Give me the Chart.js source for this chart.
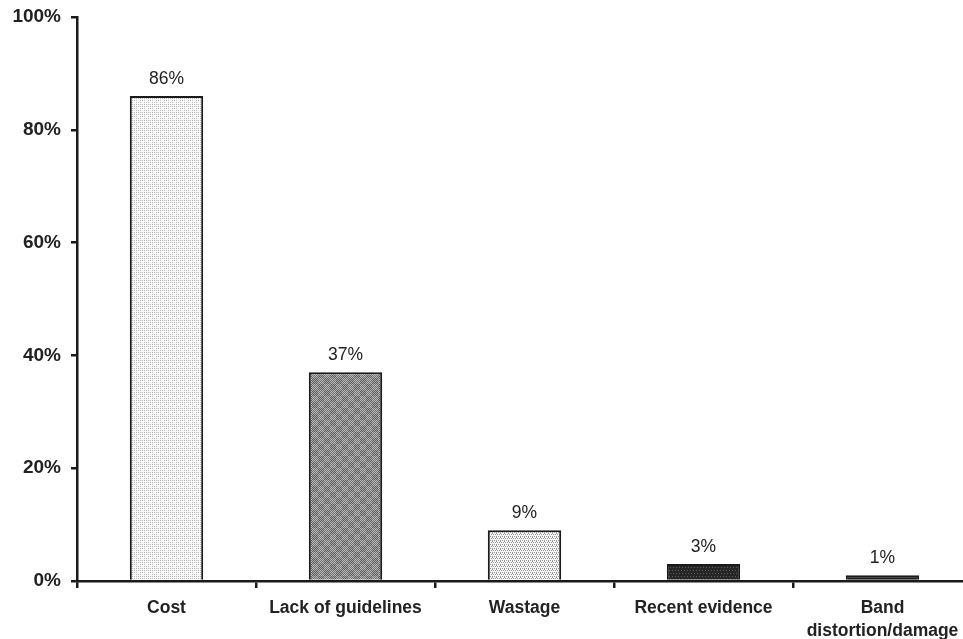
<!DOCTYPE html>
<html>
<head>
<meta charset="utf-8">
<script src="https://cdn.jsdelivr.net/npm/chart.js@4.4.1/dist/chart.umd.min.js"></script>
<style>
html,body{margin:0;padding:0;background:#fff;overflow:hidden;}
#wrap{width:980px;height:639px;position:relative;}
</style>
</head>
<body>
<div id="wrap"><canvas id="c" width="980" height="639"></canvas></div>
<script>
const categories = ["Cost", "Lack of guidelines", "Wastage", "Recent evidence", ["Band", "distortion/damage"]];
const values = [86, 37, 9, 3, 1];
const yTicks = [0, 20, 40, 60, 80, 100];

function makePattern(bg, fg, cell, dots) {
  const p = document.createElement('canvas');
  p.width = cell; p.height = cell;
  const g = p.getContext('2d');
  g.fillStyle = bg; g.fillRect(0, 0, cell, cell);
  g.fillStyle = fg;
  dots.forEach(d => g.fillRect(d[0], d[1], 1, 1));
  return g.createPattern(p, 'repeat');
}
function grid(cell, step, skip) {
  const d = [];
  for (let y = 0; y < cell; y += step) for (let x = 0; x < cell; x += step) {
    if (!skip || !skip(x, y)) d.push([x, y]);
  }
  return d;
}
function checker(cell) {
  const p = document.createElement('canvas');
  p.width = cell; p.height = cell;
  const g = p.getContext('2d');
  for (let y = 0; y < cell; y++) for (let x = 0; x < cell; x++) {
    const blk = ((Math.floor(x / 6) + Math.floor(y / 6)) % 2);
    const ch = (x + y) % 2;
    g.fillStyle = blk ? (ch ? '#5e5e5e' : '#a6a6a6') : (ch ? '#727272' : '#b8b8b8');
    g.fillRect(x, y, 1, 1);
  }
  return g.createPattern(p, 'repeat');
}

const fills = [
  makePattern('#fbfbfb', '#b8b8b8', 8, grid(8, 2, (x, y) => (x === 6 && y === 6) || (x === 2 && y === 4))),
  checker(12),
  makePattern('#f4f4f4', '#9a9a9a', 4, [[0,0],[2,0],[1,2],[3,2],[0,1]]),
  makePattern('#262626', '#5c5c5c', 6, [[0,0],[3,0],[1,3],[4,3]]),
  '#1c1c1c'
];

const labelPlugin = {
  id: 'barLabels',
  afterDatasetsDraw(chart) {
    const c = chart.ctx;
    const meta = chart.getDatasetMeta(0);
    c.save();
    c.fillStyle = '#222';
    c.font = '17.5px "Liberation Sans", Arial, sans-serif';
    c.textAlign = 'center';
    c.textBaseline = 'alphabetic';
    meta.data.forEach((el, i) => {
      c.fillText(values[i] + '%', el.x, el.y - 12);
    });
    c.restore();
  }
};

new Chart(document.getElementById('c'), {
  type: 'bar',
  data: {
    labels: categories,
    datasets: [{
      data: values,
      backgroundColor: fills,
      borderColor: '#1a1a1a',
      borderWidth: 2,
      borderSkipped: 'bottom',
      barPercentage: 0.82,
      categoryPercentage: 0.5
    }]
  },
  options: {
    responsive: false,
    animation: false,
    events: [],
    layout: { padding: { top: 17, right: 8, left: 0, bottom: 0 } },
    plugins: { legend: { display: false }, tooltip: { enabled: false } },
    scales: {
      x: {
        grid: { display: true, drawOnChartArea: false, offset: true, color: '#1a1a1a', lineWidth: 2.5, tickLength: 7 },
        border: { display: true, color: '#1a1a1a', width: 2.5 },
        ticks: { color: '#222', font: { family: '"Liberation Sans", Arial, sans-serif', size: 17.5, weight: 'bold', lineHeight: 1.3 }, padding: 9, maxRotation: 0, autoSkip: false },
        afterFit(s) { s.height = 58; }
      },
      y: {
        min: 0, max: 100,
        afterBuildTicks(s) { s.ticks = yTicks.map(v => ({ value: v })); },
        grid: { display: true, drawOnChartArea: false, color: '#1a1a1a', lineWidth: 2.5, tickLength: 6 },
        border: { display: true, color: '#1a1a1a', width: 2.5 },
        ticks: { color: '#222', font: { family: '"Liberation Sans", Arial, sans-serif', size: 19, weight: 'bold', lineHeight: 1 }, padding: 10, callback: v => v + '%' },
        afterFit(s) { s.width = 77; s.paddingTop = 0; }
      }
    }
  },
  plugins: [labelPlugin]
});
</script>
</body>
</html>
